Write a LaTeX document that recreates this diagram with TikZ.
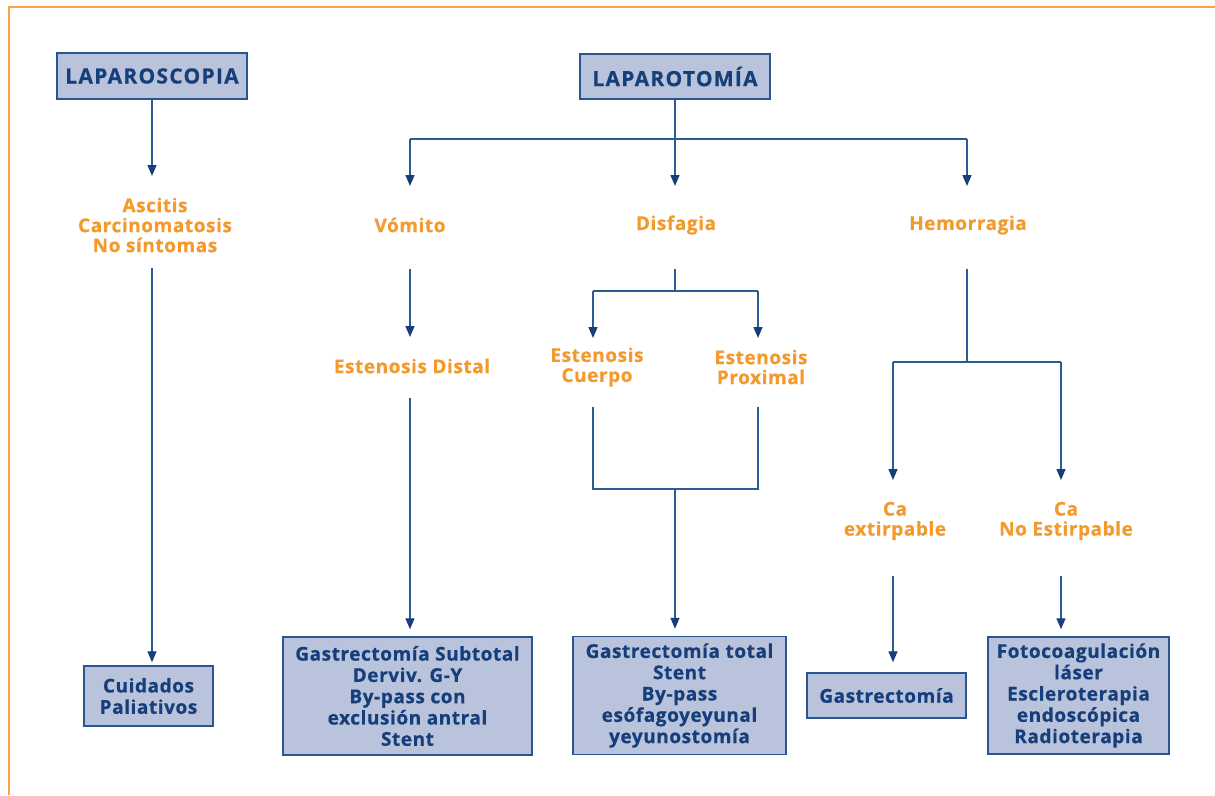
\documentclass[tikz,border=0pt]{standalone}
\usepackage{fontspec}
\setmainfont{Open Sans}
\newfontfamily\bodyfont{Open Sans}[LetterSpace=3, BoldFeatures={FakeBold=0.6}]
\newfontfamily\titlefont{Open Sans}[LetterSpace=6, BoldFeatures={FakeBold=0.6}]
\usetikzlibrary{arrows.meta}

\definecolor{frameorange}{HTML}{F7A543}
\definecolor{condorange}{HTML}{F39A2E}
\definecolor{navy}{HTML}{163E7A}
\definecolor{boxfill}{HTML}{B9C3DC}
\definecolor{boxline}{HTML}{2A5690}
\definecolor{linkblue}{HTML}{2D5B93}

\begin{document}
\begin{tikzpicture}[x=1pt,y=-1pt,
  box/.style={draw=boxline, line width=1.5pt, fill=boxfill, text=navy,
    font=\bodyfont\bfseries\fontsize{19}{21.3}\selectfont, align=center, inner sep=0pt},
  titlebox/.style={box, font=\titlefont\bfseries\fontsize{21}{24}\selectfont},
  cond/.style={text=condorange, font=\bodyfont\bfseries\fontsize{19}{20}\selectfont,
    align=center, inner sep=0pt},
  link/.style={draw=linkblue, line width=1.4pt},
  arr/.style={link, -{Triangle[width=9pt,length=11pt,color=navy]}}]

\useasboundingbox (0,0) rectangle (1215,795);

% page frame
\draw[frameorange, line width=2pt] (9,795) -- (9,7) -- (1215,7);

% boxes
\node[titlebox, minimum width=190, minimum height=46] (lapsc) at (152,76) {LAPAROSCOPIA};
\node[titlebox, minimum width=190, minimum height=45] (lapto) at (675,76.5) {LAPAROTOMÍA};
\node[box, minimum width=129, minimum height=60] (cuid) at (148.5,696) {Cuidados\\Paliativos};
\node[box, minimum width=249, minimum height=118] (gsub) at (407.5,696)
  {Gastrectomía Subtotal\\Derviv. G-Y\\By-pass con\\exclusión antral\\Stent};
\node[box, minimum width=213, minimum height=118] (gtot) at (679.5,695.5)
  {Gastrectomía total\\Stent\\By-pass\\esófagoyeyunal\\yeyunostomía};
\node[box, minimum width=159, minimum height=45] (gastr) at (886.5,695.5) {Gastrectomía};
\node[box, minimum width=181, minimum height=117] (foto) at (1078.5,695.5)
  {Fotocoagulación\\láser\\Escleroterapia\\endoscópica\\Radioterapia};

% conditions
\node[cond] (asc) at (155,225) {Ascitis\\Carcinomatosis\\No síntomas};
\node[cond] (vom) at (410,225) {Vómito};
\node[cond] (disf) at (676,225) {Disfagia};
\node[cond] (hem) at (968,225) {Hemorragia};
\node[cond] (edist) at (412,366) {Estenosis Distal};
\node[cond] (ecuer) at (597,367) {Estenosis\\Cuerpo};
\node[cond] (eprox) at (761,367) {Estenosis\\Proximal};
\node[cond] (caext) at (895,521) {Ca\\extirpable};
\node[cond] (cano) at (1066,521) {Ca\\No Estirpable};

% connector ends
\coordinate (asc-in) at (152,176);
\coordinate (asc-out) at (152,268);
\coordinate (lt-bar) at (675,139);
\coordinate (vom-in) at (410,186);
\coordinate (disf-in) at (675,186);
\coordinate (hem-in) at (967,186);
\coordinate (vom-out) at (410,269);
\coordinate (edist-in) at (410,337);
\coordinate (edist-out) at (410,398);
\coordinate (disf-out) at (675,269);
\coordinate (disf-bar) at (675,291);
\coordinate (ecuer-in) at (593,338);
\coordinate (eprox-in) at (758,338);
\coordinate (ecuer-out) at (593,407);
\coordinate (eprox-out) at (758,407);
\coordinate (est-join) at (675,489);
\coordinate (hem-out) at (967,269);
\coordinate (hem-bar) at (967,362);
\coordinate (caext-in) at (893,480);
\coordinate (cano-in) at (1061,480);
\coordinate (caext-out) at (893,576);
\coordinate (cano-out) at (1061,576);

% laparoscopia branch
\draw[arr] (lapsc) -- (asc-in);
\draw[arr, shorten >=3pt] (asc-out) -- (asc-out |- cuid.north);

% laparotomia branches
\draw[link] (vom-in |- lt-bar) -- (hem-in |- lt-bar);
\draw[arr] (lapto) -- (disf-in);
\draw[arr] (vom-in |- lt-bar) -- (vom-in);
\draw[arr] (hem-in |- lt-bar) -- (hem-in);

% vomito
\draw[arr] (vom-out) -- (edist-in);
\draw[arr, shorten >=7pt] (edist-out) -- (edist-out |- gsub.north);

% disfagia
\draw[link] (disf-out) -- (disf-bar);
\draw[link] (ecuer-in |- disf-bar) -- (eprox-in |- disf-bar);
\draw[arr] (ecuer-in |- disf-bar) -- (ecuer-in);
\draw[arr] (eprox-in |- disf-bar) -- (eprox-in);
\draw[link] (ecuer-out) |- (est-join) -| (eprox-out);
\draw[arr, shorten >=7pt] (est-join) -- (est-join |- gtot.north);

% hemorragia
\draw[link] (hem-out) -- (hem-bar);
\draw[link] (caext-in |- hem-bar) -- (cano-in |- hem-bar);
\draw[arr] (caext-in |- hem-bar) -- (caext-in);
\draw[arr] (cano-in |- hem-bar) -- (cano-in);
\draw[arr, shorten >=10pt] (caext-out) -- (caext-out |- gastr.north);
\draw[arr, shorten >=7pt] (cano-out) -- (cano-out |- foto.north);

\end{tikzpicture}
\end{document}
